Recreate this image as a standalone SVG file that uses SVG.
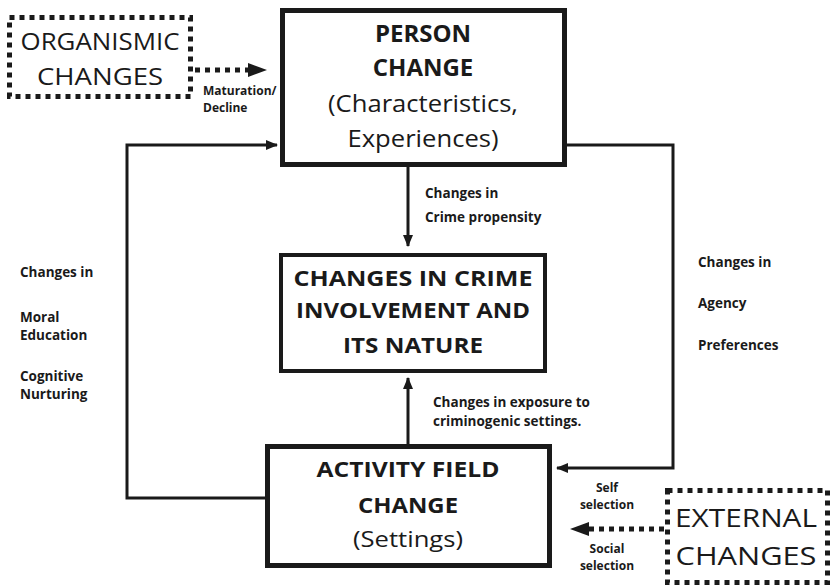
<svg xmlns="http://www.w3.org/2000/svg" width="831" height="585" viewBox="0 0 831 585">
<style>
.box{fill:#fff;stroke:#1a1a1a}
.dot{fill:#fff;stroke:#1a1a1a;stroke-width:5;stroke-dasharray:5 5}
.t{font-family:"Open Sans","Liberation Sans",sans-serif;fill:#1a1a1a;text-anchor:middle}
.b{font-weight:bold}
.s{font-family:"Open Sans","Liberation Sans",sans-serif;font-weight:bold;font-size:13.5px;fill:#1a1a1a}
.m{font-family:"Open Sans","Liberation Sans",sans-serif;font-weight:bold;font-size:12px;fill:#1a1a1a}
.c{fill:none;stroke:#1a1a1a;stroke-width:3}
.d{fill:none;stroke:#1a1a1a;stroke-width:5;stroke-dasharray:5 5}
</style>
<defs>
<marker id="ah" viewBox="0 0 12 10" refX="11" refY="5" markerWidth="12" markerHeight="10" markerUnits="userSpaceOnUse" orient="auto">
<path d="M0,0 L12,5 L0,10 z" fill="#1a1a1a"/>
</marker>
</defs>
<rect width="831" height="585" fill="#fff"/>
<g id="connectors">
<polyline class="c" points="265,498 127,498 127,145 277,145" marker-end="url(#ah)"/>
<polyline class="c" points="567,145 673,145 673,468 557,468" marker-end="url(#ah)"/>
<line class="c" x1="408" y1="167" x2="408" y2="246" marker-end="url(#ah)"/>
<line class="c" x1="408" y1="444" x2="408" y2="378" marker-end="url(#ah)"/>
<line class="d" x1="195" y1="70" x2="250" y2="70"/>
<path d="M248,63 L267,70 L248,77 z" fill="#1a1a1a"/>
<line class="d" x1="664" y1="529" x2="588" y2="529"/>
<path d="M589,522 L570,529 L589,536 z" fill="#1a1a1a"/>
<text class="m" x="203" y="95">Maturation/</text>
<text class="m" x="203" y="112">Decline</text>
<text class="s" x="425" y="198">Changes in</text>
<text class="s" x="425" y="222">Crime propensity</text>
<text class="s" x="433" y="407">Changes in exposure to</text>
<text class="s" x="433" y="426">criminogenic settings.</text>
<text class="s" x="20" y="277">Changes in</text>
<text class="s" x="20" y="322">Moral</text>
<text class="s" x="20" y="340">Education</text>
<text class="s" x="20" y="381">Cognitive</text>
<text class="s" x="20" y="399">Nurturing</text>
<text class="s" x="698" y="267">Changes in</text>
<text class="s" x="698" y="308">Agency</text>
<text class="s" x="698" y="350">Preferences</text>
<text class="m" x="607" y="492" text-anchor="middle">Self</text>
<text class="m" x="607" y="509" text-anchor="middle">selection</text>
<text class="m" x="607" y="553" text-anchor="middle">Social</text>
<text class="m" x="607" y="570" text-anchor="middle">selection</text>
</g>
<g id="organismic">
<rect class="dot" x="9.5" y="17.5" width="181" height="79"/>
<text class="t" x="100" y="50" font-size="24" textLength="159" lengthAdjust="spacingAndGlyphs">ORGANISMIC</text>
<text class="t" x="100" y="85" font-size="24" textLength="126" lengthAdjust="spacingAndGlyphs">CHANGES</text>
</g>
<g id="person">
<rect class="box" x="282.5" y="10.5" width="282" height="154" stroke-width="5"/>
<text class="t b" x="423" y="42" font-size="24">PERSON</text>
<text class="t b" x="423" y="76" font-size="24">CHANGE</text>
<text class="t" x="423" y="112" font-size="24" textLength="190" lengthAdjust="spacingAndGlyphs">(Characteristics,</text>
<text class="t" x="423" y="147" font-size="24" textLength="151" lengthAdjust="spacingAndGlyphs">Experiences)</text>
</g>
<g id="crime">
<rect class="box" x="281" y="255" width="264" height="116" stroke-width="4"/>
<text class="t b" x="413" y="286" font-size="21" textLength="239" lengthAdjust="spacingAndGlyphs">CHANGES IN CRIME</text>
<text class="t b" x="413" y="318" font-size="21" textLength="234" lengthAdjust="spacingAndGlyphs">INVOLVEMENT AND</text>
<text class="t b" x="413" y="353" font-size="21" textLength="140" lengthAdjust="spacingAndGlyphs">ITS NATURE</text>
</g>
<g id="activity">
<rect class="box" x="267.5" y="446.5" width="282" height="119" stroke-width="5"/>
<text class="t b" x="408" y="477" font-size="22" textLength="183" lengthAdjust="spacingAndGlyphs">ACTIVITY FIELD</text>
<text class="t b" x="408" y="513" font-size="22" textLength="100" lengthAdjust="spacingAndGlyphs">CHANGE</text>
<text class="t" x="408" y="547" font-size="22" textLength="110" lengthAdjust="spacingAndGlyphs">(Settings)</text>
</g>
<g id="external">
<rect class="dot" x="667.5" y="490.5" width="160" height="92"/>
<text class="t" x="746" y="527" font-size="25" textLength="142" lengthAdjust="spacingAndGlyphs">EXTERNAL</text>
<text class="t" x="746" y="565" font-size="25" textLength="141" lengthAdjust="spacingAndGlyphs">CHANGES</text>
</g>
</svg>
